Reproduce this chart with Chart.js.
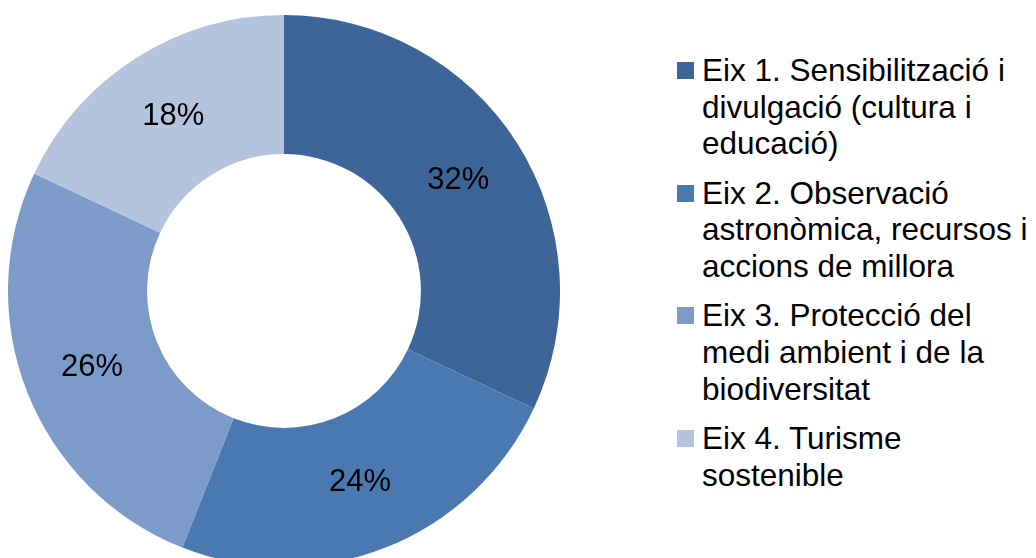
<!DOCTYPE html>
<html>
<head>
<meta charset="utf-8">
<script src="https://cdn.jsdelivr.net/npm/chart.js@4/dist/chart.umd.min.js"></script>
<style>
  html, body { margin: 0; padding: 0; background: #fff; overflow: hidden; width: 1036px; height: 558px; }
  #wrap { position: absolute; left: 8px; top: 15px; width: 552px; height: 552px; }
  #legend { position: absolute; left: 677px; top: 52px; width: 361px; font-family: "Liberation Sans", Arial, sans-serif; font-size: 31.5px; line-height: 36.7px; color: #000; }
  .item { position: relative; padding-left: 25px; margin-bottom: 12.5px; }
  .sw { position: absolute; left: 0; top: 10px; width: 17px; height: 17px; }
</style>
</head>
<body>
<div id="wrap"><canvas id="c"></canvas></div>
<div id="legend"></div>
<script>
const categories = [
  "Eix 1. Sensibilització i divulgació (cultura i educació)",
  "Eix 2. Observació astronòmica, recursos i accions de millora",
  "Eix 3. Protecció del medi ambient i de la biodiversitat",
  "Eix 4. Turisme sostenible"
];
const values = [32, 24, 26, 18];
const colors = ["#3D6597", "#4A78B1", "#7D9BC9", "#B4C3DE"];

const labelPlugin = {
  id: 'sliceLabels',
  afterDatasetsDraw(chart) {
    const ctx = chart.ctx;
    const meta = chart.getDatasetMeta(0);
    const total = values.reduce((a, b) => a + b, 0);
    ctx.save();
    ctx.font = '31px "Liberation Sans", Arial, sans-serif';
    ctx.fillStyle = '#000';
    ctx.textAlign = 'center';
    ctx.textBaseline = 'middle';
    meta.data.forEach((arc, i) => {
      const p = arc.tooltipPosition();
      ctx.fillText(Math.round(values[i] / total * 100) + '%', p.x, p.y);
    });
    ctx.restore();
  }
};

new Chart(document.getElementById('c'), {
  type: 'doughnut',
  data: {
    labels: categories,
    datasets: [{ data: values, backgroundColor: colors, borderWidth: 0 }]
  },
  options: {
    responsive: true,
    maintainAspectRatio: false,
    animation: false,
    cutout: '49.6%',
    layout: { padding: 0 },
    plugins: { legend: { display: false }, tooltip: { enabled: false } }
  },
  plugins: [labelPlugin]
});

const leg = document.getElementById('legend');
categories.forEach((c, i) => {
  const d = document.createElement('div');
  d.className = 'item';
  const s = document.createElement('span');
  s.className = 'sw';
  s.style.background = colors[i];
  d.appendChild(s);
  d.appendChild(document.createTextNode(c));
  leg.appendChild(d);
});
</script>
</body>
</html>
